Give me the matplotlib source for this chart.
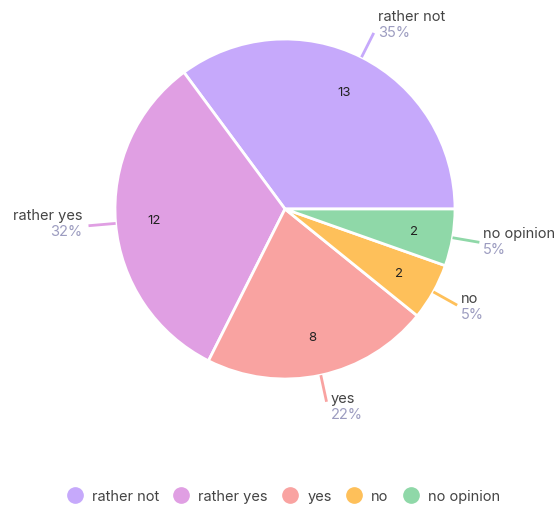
import numpy as np
import matplotlib.pyplot as plt
from matplotlib.lines import Line2D

plt.rcParams['font.family'] = ['Inter', 'DejaVu Sans']

labels = ["rather not", "rather yes", "yes", "no", "no opinion"]
counts = [13, 12, 8, 2, 2]
colors = ["#c6a9fb", "#e09fe3", "#f9a3a1", "#fec05a", "#8fd8a8"]

W, H = 558, 506
fig = plt.figure(figsize=(W / 100, H / 100), dpi=100)
ax = fig.add_axes([0, 0, 1, 1])

cx, cy, R = 285, H - 210, 170

wedges, _ = ax.pie(counts, colors=colors, startangle=0, counterclock=True,
                   center=(cx, cy), radius=R, frame=True,
                   wedgeprops=dict(edgecolor='white', linewidth=2))
ax.set_xlim(0, W)
ax.set_ylim(0, H)
ax.set_aspect('equal')
ax.axis('off')

total = sum(counts)
for w, lab, n, col in zip(wedges, labels, counts, colors):
    mid = np.deg2rad((w.theta1 + w.theta2) / 2)
    c, s = np.cos(mid), np.sin(mid)
    # count inside the slice
    ax.text(cx + 0.77 * R * c, cy + 0.77 * R * s, str(n), ha='center', va='center',
            fontsize=9.5, color='#222222')
    # leader line
    x0, y0 = cx + R * c, cy + R * s
    x1, y1 = cx + 1.16 * R * c, cy + 1.16 * R * s
    ax.plot([x0, x1], [y0, y1], color=col, lw=2, solid_capstyle='butt')
    ha = 'left' if c >= 0 else 'right'
    tx = x1 + (4 if c >= 0 else -6)
    yc = y1 + 3 + 7 * s
    pct = f"{round(100 * n / total)}%"
    ax.text(tx, yc + 8, lab, ha=ha, va='center', fontsize=10.5, color='#444444')
    ax.text(tx, yc - 8, pct, ha=ha, va='center', fontsize=10.5, color='#9c9cc0')

handles = [Line2D([], [], marker='o', linestyle='', markersize=11,
                  markerfacecolor=col, markeredgecolor=col) for col in colors]
fig.legend(handles, labels, loc='center', bbox_to_anchor=(283 / W, 1 - 497 / H),
           ncol=5, frameon=False, fontsize=10.5, handletextpad=0.6,
           columnspacing=0.95, handlelength=1.15, labelcolor='#444444')

fig.savefig("out.png", dpi=100)
